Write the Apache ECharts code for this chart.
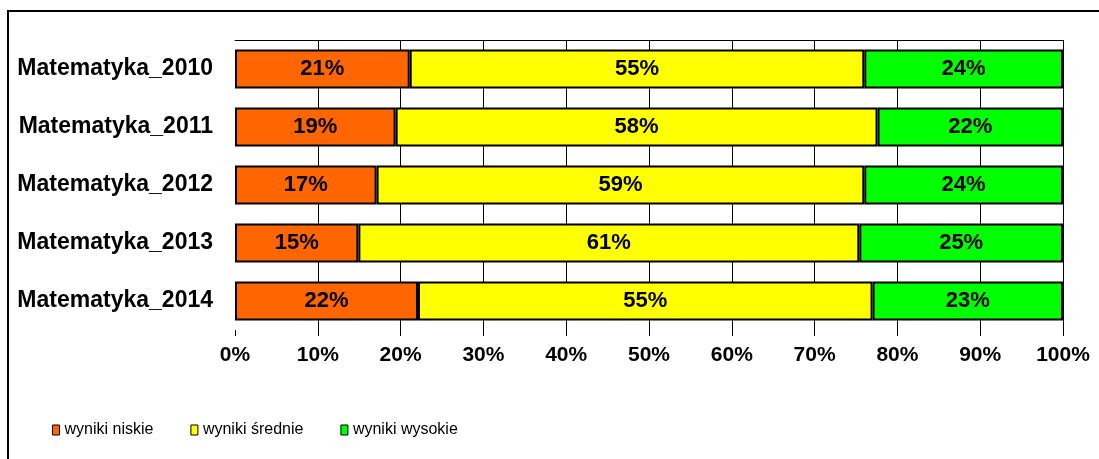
<!DOCTYPE html>
<html>
<head>
<meta charset="utf-8">
<script src="https://cdn.jsdelivr.net/npm/echarts@6/dist/echarts.min.js"></script>
<style>
  html, body { margin: 0; padding: 0; background: #fff; }
  #chart { width: 1099px; height: 459px; }
</style>
</head>
<body>
<div id="chart"></div>
<script>
// dane (w %)
var categories = ['Matematyka_2010', 'Matematyka_2011', 'Matematyka_2012', 'Matematyka_2013', 'Matematyka_2014'];
var seriesNames = ['wyniki niskie', 'wyniki średnie', 'wyniki wysokie'];
var niskie  = [21.1, 19.4, 17.1, 14.9, 22.1];
var srednie = [54.9, 58.2, 58.9, 60.5, 54.9];
var wysokie = [24.0, 22.4, 24.0, 24.6, 23.0];
var colors = ['#FF6600', '#FFFF00', '#00FF00'];

var myChart = echarts.init(document.getElementById('chart'));
var font = 'Liberation Sans, Arial, sans-serif';

function barSeries(name, data, color) {
    return {
        name: name,
        type: 'bar',
        stack: 'total',
        barWidth: 39,
        data: data,
        itemStyle: { color: color, borderColor: '#000', borderWidth: 2 },
        label: {
            show: true,
            position: 'inside',
            color: '#000',
            fontFamily: font,
            fontWeight: 'bold',
            fontSize: 22,
            formatter: function (p) { return Math.round(p.value) + '%'; }
        }
    };
}

var option = {
    animation: false,
    backgroundColor: '#fff',
    graphic: [{
        type: 'rect',
        shape: { x: 8, y: 11, width: 1200, height: 600 },
        style: { fill: 'none', stroke: '#000', lineWidth: 2 },
        silent: true
    }],
    grid: { left: 235, right: 36, top: 40, height: 290 },
    legend: {
        left: 52,
        top: 422,
        padding: 0,
        icon: 'rect',
        itemWidth: 7,
        itemHeight: 10,
        itemGap: 37,
        itemStyle: { borderWidth: 1, borderColor: '#000' },
        textStyle: { fontFamily: font, fontSize: 16, color: '#000' },
        data: seriesNames
    },
    xAxis: [{
        type: 'value',
        min: 0,
        max: 100,
        interval: 10,
        axisLine: { show: false },
        axisTick: { show: true, length: 6, lineStyle: { color: '#000' } },
        splitLine: { show: true, showMinLine: false, lineStyle: { color: '#000', width: 1 } },
        axisLabel: {
            formatter: '{value}%',
            margin: 15,
            color: '#000',
            fontFamily: font,
            fontWeight: 'bold',
            fontSize: 21
        }
    }, {
        type: 'value',
        position: 'top',
        min: 0,
        max: 100,
        axisLine: { show: true, lineStyle: { color: '#000', width: 1 } },
        axisTick: { show: false },
        axisLabel: { show: false },
        splitLine: { show: false }
    }],
    yAxis: {
        type: 'category',
        inverse: true,
        data: categories,
        axisLine: { show: false },
        axisTick: { show: false },
        axisLabel: {
            margin: 22,
            color: '#000',
            fontFamily: font,
            fontWeight: 'bold',
            fontSize: 23
        }
    },
    series: [
        barSeries(seriesNames[0], niskie, colors[0]),
        barSeries(seriesNames[1], srednie, colors[1]),
        barSeries(seriesNames[2], wysokie, colors[2])
    ]
};

myChart.setOption(option);
</script>
</body>
</html>
